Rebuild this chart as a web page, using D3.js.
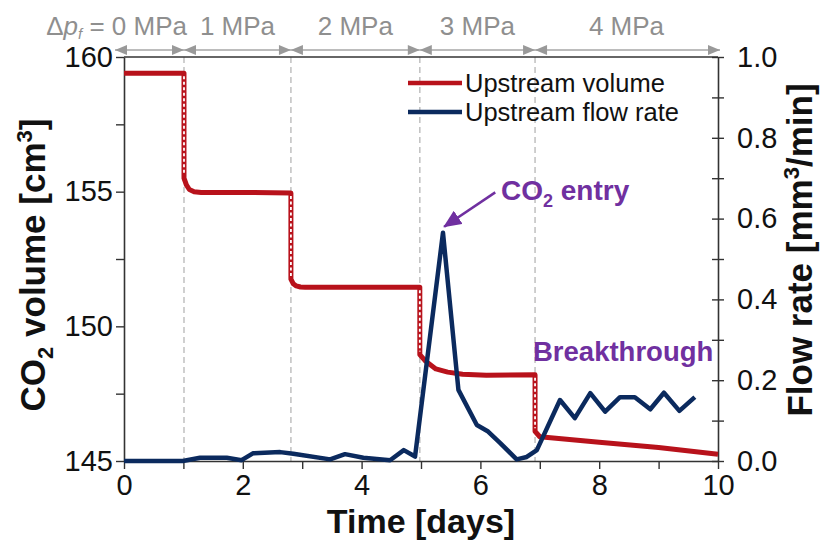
<!DOCTYPE html>
<html>
<head>
<meta charset="utf-8">
<script src="https://cdn.jsdelivr.net/npm/d3@7"></script>
<style>
  body { margin: 0; background: #fff; }
  svg { font-family: "Liberation Sans", Arial, sans-serif; }
</style>
</head>
<body>
<svg id="chart" width="823" height="542"></svg>
<script>
// upstream volume (cm3) vs time (days); repeated day = vertical drop at a pressure step
const volDays = [0, 1.01, 1.01, 1.05, 1.1, 1.18, 1.3, 2.0, 2.81, 2.81, 2.85, 2.9, 2.97, 3.05, 4.0, 4.98, 4.98, 5.08, 5.25, 5.45, 5.7, 6.1, 6.92, 6.92, 7.0, 8.0, 9.0, 10.0];
const volValues = [159.4, 159.4, 155.5, 155.25, 155.08, 155.0, 154.97, 154.97, 154.95, 151.75, 151.58, 151.5, 151.46, 151.45, 151.45, 151.45, 148.95, 148.7, 148.42, 148.3, 148.22, 148.18, 148.2, 146.1, 145.9, 145.7, 145.5, 145.25];

// upstream flow rate (mm3/min)
const flowDays = [0, 0.99, 1.28, 1.73, 1.98, 2.17, 2.63, 2.85, 3.47, 3.72, 4.03, 4.48, 4.71, 4.9, 5.37, 5.63, 5.94, 6.13, 6.33, 6.61, 6.78, 6.95, 7.34, 7.59, 7.85, 8.1, 8.35, 8.6, 8.86, 9.09, 9.35, 9.61];
const flowValues = [0, 0, 0.008, 0.008, 0.002, 0.019, 0.022, 0.018, 0.004, 0.017, 0.008, 0.002, 0.027, 0.011, 0.565, 0.176, 0.089, 0.073, 0.045, 0.004, 0.01, 0.027, 0.151, 0.106, 0.168, 0.122, 0.158, 0.158, 0.128, 0.169, 0.124, 0.158];

// pressure steps
const stepDays = [0, 1.01, 2.81, 4.98, 6.92, 10];
const stepLabels = ['0 MPa', '1 MPa', '2 MPa', '3 MPa', '4 MPa'];

const volTicks = [145, 147.5, 150, 152.5, 155, 157.5, 160];
const flowTicks = [0, 0.1, 0.2, 0.3, 0.4, 0.5, 0.6, 0.7, 0.8, 0.9, 1.0];
const dayTicks = [0, 1, 2, 3, 4, 5, 6, 7, 8, 9, 10];

const red = '#b8121b';
const blue = '#0b2a5e';
const purple = '#7030a0';
const axisColor = '#333';

const svg = d3.select('#chart');

const x = d3.scaleLinear().domain([0, 10]).range([124, 718]);
const yVol = d3.scaleLinear().domain([145, 160]).range([461, 57]);
const yFlow = d3.scaleLinear().domain([0, 1]).range([461, 57]);

const defs = svg.append('defs');
defs.append('marker')
  .attr('id', 'grayHead')
  .attr('viewBox', '0 0 12 10')
  .attr('refX', 12).attr('refY', 5)
  .attr('markerUnits', 'userSpaceOnUse')
  .attr('markerWidth', 13).attr('markerHeight', 10)
  .attr('orient', 'auto-start-reverse')
  .append('path').attr('d', 'M0,0L12,5L0,10Z').attr('fill', '#999');
defs.append('marker')
  .attr('id', 'purpleHead')
  .attr('viewBox', '0 0 16 14')
  .attr('refX', 15).attr('refY', 7)
  .attr('markerUnits', 'userSpaceOnUse')
  .attr('markerWidth', 18).attr('markerHeight', 16)
  .attr('orient', 'auto')
  .append('path').attr('d', 'M0,0L16,7L0,14Z').attr('fill', purple);

// dashed step lines
svg.append('g')
  .selectAll('line')
  .data(stepDays.slice(1, -1))
  .join('line')
  .attr('x1', d => x(d)).attr('x2', d => x(d))
  .attr('y1', yVol(160)).attr('y2', yVol(145))
  .attr('stroke', '#c4c4c4')
  .attr('stroke-width', 1.6)
  .attr('stroke-dasharray', '6,4');

// axes
const bottomAxis = svg.append('g')
  .attr('transform', `translate(0,${yVol(145)})`)
  .call(d3.axisBottom(x).tickValues(dayTicks).tickSize(8).tickSizeOuter(0).tickPadding(5)
    .tickFormat(d => d % 2 === 0 ? d : ''));

const leftAxis = svg.append('g')
  .attr('transform', `translate(${x(0)},0)`)
  .call(d3.axisLeft(yVol).tickValues(volTicks).tickSize(8).tickSizeOuter(0).tickPadding(3)
    .tickFormat(d => d % 5 === 0 ? d : ''));

const rightAxis = svg.append('g')
  .attr('transform', `translate(${x(10)},0)`)
  .call(d3.axisRight(yFlow).tickValues(flowTicks).tickSize(6).tickSizeOuter(0).tickPadding(13)
    .tickFormat(d => Math.round(d * 10) % 2 === 0 ? d3.format('.1f')(d) : ''));
rightAxis.selectAll('.tick line').attr('x1', -6);

[bottomAxis, leftAxis, rightAxis].forEach(g => {
  g.select('.domain').attr('stroke', axisColor).attr('stroke-width', 1.6);
  g.selectAll('.tick line').attr('stroke', axisColor).attr('stroke-width', 1.4);
  g.selectAll('.tick text').attr('fill', '#111').style('font-size', '29px')
    .style('font-family', '"Liberation Sans", Arial, sans-serif');
});

// top frame
svg.append('line')
  .attr('x1', x(0)).attr('x2', x(10))
  .attr('y1', yVol(160)).attr('y2', yVol(160))
  .attr('stroke', axisColor).attr('stroke-width', 1.6);

// pressure step arrows
const arrowY = 50;
svg.append('g')
  .selectAll('line')
  .data(d3.pairs(stepDays))
  .join('line')
  .attr('x1', d => x(d[0]) - (d[0] === 0 ? 9 : 0))
  .attr('x2', d => x(d[1]) + (d[1] === 10 ? 2 : 0))
  .attr('y1', arrowY).attr('y2', arrowY)
  .attr('stroke', '#a6a6a6').attr('stroke-width', 1.5)
  .attr('marker-start', 'url(#grayHead)')
  .attr('marker-end', 'url(#grayHead)');

const stepText = svg.append('g')
  .attr('fill', '#8f8f8f')
  .style('font-size', '26px');
stepText.selectAll('text')
  .data(d3.pairs(stepDays))
  .join('text')
  .attr('x', (d, i) => i === 0 ? x(d[1]) + 3 : x((d[0] + d[1]) / 2))
  .attr('y', 35)
  .attr('text-anchor', (d, i) => i === 0 ? 'end' : 'middle')
  .each(function (d, i) {
    const t = d3.select(this);
    if (i === 0) {
      t.append('tspan').text('Δ');
      t.append('tspan').attr('font-style', 'italic').text('p');
      t.append('tspan').attr('font-style', 'italic').attr('font-size', '15px').attr('dy', 4).text('f');
      t.append('tspan').attr('dy', -4).text(' = ' + stepLabels[i]);
    } else {
      t.text(stepLabels[i]);
    }
  });

// upstream volume line
const volPts = volDays.map((d, i) => [d, volValues[i]]);
svg.append('path')
  .datum(volPts)
  .attr('fill', 'none')
  .attr('stroke', red)
  .attr('stroke-width', 5)
  .attr('stroke-linejoin', 'round')
  .attr('d', d3.line().x(d => x(d[0])).y(d => yVol(d[1])));

// hatched look of the vertical drops
const drops = d3.pairs(volPts).filter(([a, b]) => a[0] === b[0]);
svg.append('g')
  .selectAll('line')
  .data(drops)
  .join('line')
  .attr('x1', d => x(d[0][0])).attr('x2', d => x(d[1][0]))
  .attr('y1', d => yVol(d[0][1]) + 3).attr('y2', d => yVol(d[1][1]) - 3)
  .attr('stroke', '#fff')
  .attr('stroke-width', 1.8)
  .attr('stroke-dasharray', '3,2.5');

// upstream flow rate line
svg.append('path')
  .datum(flowDays.map((d, i) => [d, flowValues[i]]))
  .attr('fill', 'none')
  .attr('stroke', blue)
  .attr('stroke-width', 4.5)
  .attr('stroke-linejoin', 'round')
  .attr('d', d3.line().x(d => x(d[0])).y(d => yFlow(d[1])));

// legend
const legend = svg.append('g').style('font-size', '25.5px');
const legendItems = [['Upstream volume', red], ['Upstream flow rate', blue]];
legendItems.forEach(([label, color], i) => {
  const ly = 83 + i * 29;
  legend.append('line')
    .attr('x1', 408).attr('x2', 462).attr('y1', ly).attr('y2', ly)
    .attr('stroke', color).attr('stroke-width', 4.5);
  legend.append('text')
    .attr('x', 465).attr('y', ly + 9)
    .attr('fill', '#111')
    .text(label);
});

// annotations
svg.append('line')
  .attr('x1', x(6.25)).attr('y1', yFlow(0.665))
  .attr('x2', x(5.39)).attr('y2', yFlow(0.58))
  .attr('stroke', purple).attr('stroke-width', 2.5)
  .attr('marker-end', 'url(#purpleHead)');

const entry = svg.append('text')
  .attr('x', 501).attr('y', 200)
  .attr('fill', purple)
  .attr('font-weight', 'bold')
  .style('font-size', '28px');
entry.append('tspan').text('CO');
entry.append('tspan').attr('font-size', '18px').attr('dy', 7).text('2');
entry.append('tspan').attr('dy', -7).text(' entry');

svg.append('text')
  .attr('x', 533).attr('y', 361)
  .attr('fill', purple)
  .attr('font-weight', 'bold')
  .style('font-size', '27.5px')
  .text('Breakthrough');

// axis titles
svg.append('text')
  .attr('x', x(5)).attr('y', 533)
  .attr('text-anchor', 'middle')
  .attr('font-weight', 'bold')
  .style('font-size', '34px')
  .attr('fill', '#111')
  .text('Time [days]');

const leftTitle = svg.append('text')
  .attr('transform', 'translate(45,265) rotate(-90)')
  .attr('text-anchor', 'middle')
  .attr('font-weight', 'bold')
  .style('font-size', '35px')
  .attr('fill', '#111');
leftTitle.append('tspan').text('CO');
leftTitle.append('tspan').attr('font-size', '22px').attr('dy', 8).text('2');
leftTitle.append('tspan').attr('dy', -8).text(' volume [cm');
leftTitle.append('tspan').attr('font-size', '22px').attr('dy', -13).text('3');
leftTitle.append('tspan').attr('dy', 13).text(']');

const rightTitle = svg.append('text')
  .attr('transform', 'translate(812,250) rotate(-90)')
  .attr('text-anchor', 'middle')
  .attr('font-weight', 'bold')
  .style('font-size', '35px')
  .attr('fill', '#111');
rightTitle.append('tspan').text('Flow rate [mm');
rightTitle.append('tspan').attr('font-size', '22px').attr('dy', -13).text('3');
rightTitle.append('tspan').attr('dy', 13).text('/min]');
</script>
</body>
</html>
